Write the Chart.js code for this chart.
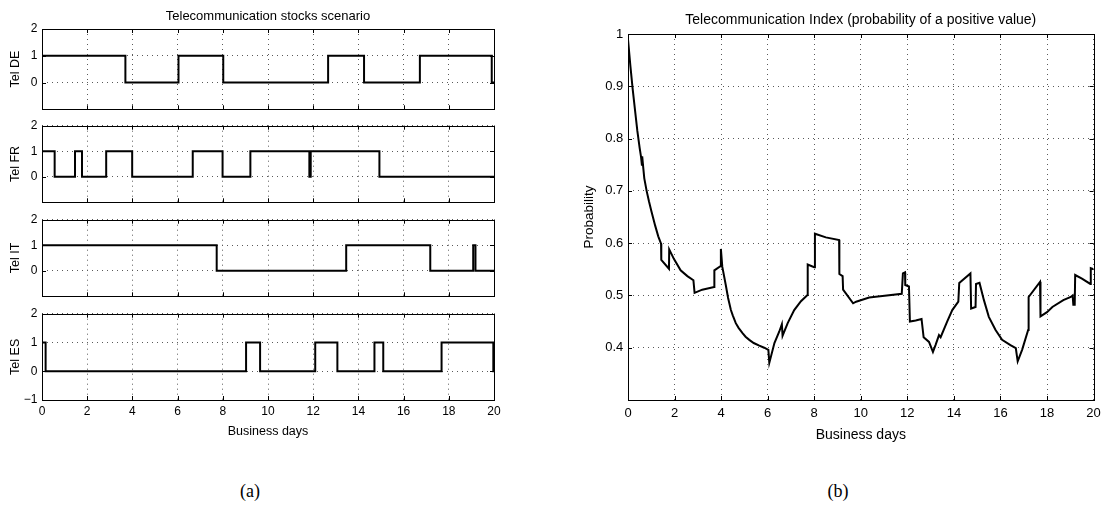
<!DOCTYPE html>
<html><head><meta charset="utf-8">
<script src="https://cdn.jsdelivr.net/npm/chart.js@4"></script>
<style>
html,body{margin:0;padding:0;background:#fff;}
body{width:1106px;height:506px;position:relative;overflow:hidden;}
canvas{position:absolute;}
.cap{position:absolute;font-family:'Liberation Serif','Times New Roman',serif;font-size:18px;color:#000;transform:translate(-50%,-50%);white-space:nowrap;}
</style></head><body>
<canvas id="cDE" width="510" height="121" style="left:0;top:0"></canvas>
<canvas id="cFR" width="510" height="100" style="left:0;top:114px"></canvas>
<canvas id="cIT" width="510" height="100" style="left:0;top:208px"></canvas>
<canvas id="cES" width="510" height="138" style="left:0;top:302px"></canvas>
<canvas id="cP" width="546" height="445" style="left:560px;top:0"></canvas>
<div class="cap" style="left:250px;top:491px">(a)</div>
<div class="cap" style="left:838px;top:491px">(b)</div>
<script>
// ---- data ----
const DAY_MIN = 0, DAY_MAX = 20;
const dayTickStep = 2;
// stock states: value v[i] holds from day t[i] onward
const telDE_t = [0, 3.69, 6.04, 8.02, 12.66, 14.25, 16.72, 19.9];
const telDE_v = [1, 0, 1, 0, 1, 0, 1, 0];
const telFR_t = [0, 0.56, 1.46, 1.77, 2.84, 3.99, 6.67, 7.99, 9.22, 11.83, 11.89, 14.93];
const telFR_v = [1, 0, 1, 0, 1, 0, 1, 0, 1, 0, 1, 0];
const telIT_t = [0, 7.73, 13.46, 17.18, 19.08, 19.18];
const telIT_v = [1, 0, 1, 0, 1, 0];
const telES_t = [0, 0.16, 9.03, 9.65, 12.09, 13.07, 14.71, 15.1, 17.68, 19.97];
const telES_v = [1, 0, 1, 0, 1, 0, 1, 0, 1, 0];

const probDays = [0, 0.1, 0.2, 0.3, 0.4, 0.5, 0.56, 0.6, 0.61, 0.66,
  0.7, 0.8, 0.9, 1.0, 1.17, 1.3, 1.42, 1.43, 1.76, 1.77,
  1.97, 2.26, 2.55, 2.81, 2.86, 3.19, 3.70, 3.71, 3.97, 3.99,
  4.05, 4.2, 4.3, 4.42, 4.5, 4.63, 4.75, 4.92, 5.05, 5.21, 5.4, 5.64, 5.85, 6.03, 6.07, 6.29,
  6.5, 6.61, 6.64, 6.86, 7.14, 7.43, 7.71, 7.72, 8.0, 8.03,
  8.5, 9.07, 9.08, 9.22, 9.24, 9.67, 9.8, 10.36, 10.93, 11.76,
  11.81, 11.9, 11.91, 12.07, 12.11, 12.36, 12.61, 12.7, 12.93, 13.1,
  13.21, 13.36, 13.43, 13.71, 13.93, 14.19, 14.23, 14.71, 14.74, 14.93,
  14.95, 15.1, 15.29, 15.5, 15.79, 16.07, 16.43, 16.66, 16.74, 16.93,
  17.19, 17.21, 17.7, 17.72, 18.0, 18.23, 18.7, 19.02, 19.1, 19.13,
  19.19, 19.21, 19.5, 19.86, 19.88, 20];
const probValues = [0.99, 0.94, 0.895, 0.855, 0.815, 0.782, 0.765, 0.748, 0.766, 0.742,
  0.724, 0.70, 0.68, 0.662, 0.633, 0.613, 0.599, 0.568, 0.551, 0.588,
  0.570, 0.548, 0.537, 0.529, 0.505, 0.511, 0.516, 0.548, 0.556, 0.589,
  0.555, 0.52, 0.495, 0.472, 0.462, 0.447, 0.438, 0.428, 0.421, 0.415, 0.409, 0.404, 0.400, 0.396, 0.371, 0.409,
  0.431, 0.445, 0.423, 0.447, 0.472, 0.489, 0.501, 0.559, 0.554, 0.618,
  0.611, 0.606, 0.541, 0.537, 0.511, 0.485, 0.488, 0.496, 0.499, 0.503,
  0.542, 0.544, 0.520, 0.517, 0.45, 0.452, 0.455, 0.42, 0.411, 0.392,
  0.405, 0.424, 0.420, 0.45, 0.472, 0.488, 0.524, 0.542, 0.475, 0.478,
  0.522, 0.524, 0.491, 0.459, 0.434, 0.415, 0.405, 0.399, 0.374, 0.396,
  0.434, 0.497, 0.526, 0.460, 0.468, 0.478, 0.491, 0.497, 0.50, 0.482,
  0.482, 0.539, 0.532, 0.522, 0.552, 0.55];

const leftTitle = 'Telecommunication stocks scenario';
const rightTitle = 'Telecommunication Index (probability of a positive value)';
const xLabel = 'Business days';
const yLabelRight = 'Probability';

// ---- styling ----
const FONT = "'Liberation Sans', Arial, Helvetica, sans-serif";
const GRID_COLOR = '#5a5a5a';
const DASH = [1, 4];
const LINE_W = 2;

const matlabAxes = {
  id: 'matlabAxes',
  afterDraw(chart) {
    const {ctx, chartArea: a, scales: {x, y}} = chart;
    const L = 4;
    const r = v => Math.round(v) + 0.5;
    ctx.save();
    ctx.strokeStyle = '#000';
    ctx.lineWidth = 1;
    ctx.setLineDash([]);
    ctx.beginPath();
    x.ticks.forEach(t => {
      const p = r(x.getPixelForValue(t.value));
      ctx.moveTo(p, a.bottom); ctx.lineTo(p, a.bottom - L);
      ctx.moveTo(p, a.top); ctx.lineTo(p, a.top + L);
    });
    y.ticks.forEach(t => {
      const p = r(y.getPixelForValue(t.value));
      ctx.moveTo(a.left, p); ctx.lineTo(a.left + L, p);
      ctx.moveTo(a.right, p); ctx.lineTo(a.right - L, p);
    });
    ctx.stroke();
    const x0 = r(a.left), y0 = r(a.top), x1 = r(a.right), y1 = r(a.bottom);
    ctx.strokeRect(x0, y0, x1 - x0, y1 - y0);
    ctx.restore();
  }
};

function gridOpts() {
  return { color: GRID_COLOR, lineWidth: 1, drawTicks: false, borderDash: DASH };
}
function borderOpts() {
  return { display: false, dash: DASH };
}

function stepPoints(t, v) {
  const pts = t.map((x, i) => ({x, y: v[i]}));
  pts.push({x: DAY_MAX, y: v[v.length - 1]});
  return pts;
}

function leftPanel(id, label, t, v, o) {
  new Chart(document.getElementById(id), {
    type: 'line',
    data: { datasets: [{ data: stepPoints(t, v), stepped: 'before', borderColor: '#000',
      borderWidth: LINE_W, pointRadius: 0, fill: false }] },
    options: {
      responsive: false, animation: false, devicePixelRatio: 1,
      layout: { padding: { top: o.padTop, right: 16, bottom: o.padBottom, left: 0 } },
      plugins: {
        legend: { display: false }, tooltip: { enabled: false },
        title: o.title ? { display: true, text: o.title, fullSize: false, color: '#000',
          font: { family: FONT, size: 13, weight: 'normal' }, padding: { top: 8.2, bottom: 5.2 } } : { display: false }
      },
      scales: {
        x: {
          type: 'linear', min: DAY_MIN, max: DAY_MAX,
          ticks: { stepSize: dayTickStep, display: o.showX, color: '#000', padding: 4.8,
            font: { family: FONT, size: 12 }, maxRotation: 0 },
          grid: gridOpts(), border: borderOpts(),
          title: o.showX ? { display: true, text: xLabel, color: '#000', font: { family: FONT, size: 12.5 },
            padding: { top: 0, bottom: 0.5 } } : { display: false },
          afterFit: s => { s.height = o.showX ? 40 : 0; }
        },
        y: {
          type: 'linear', min: -1, max: 2,
          ticks: { stepSize: 1, color: '#000', padding: 4.5, font: { family: FONT, size: 12 },
            callback: val => val === -1 ? (o.showMinus ? '\u22121' : '') : String(val) },
          grid: gridOpts(), border: borderOpts(),
          title: { display: true, text: label, color: '#000', font: { family: FONT, size: 12.5 },
            padding: { top: 8.5, bottom: 0 } },
          afterFit: s => { s.width = 42; }
        }
      }
    },
    plugins: [matlabAxes]
  });
}

leftPanel('cDE', 'Tel DE', telDE_t, telDE_v, { title: leftTitle, padTop: 0, padBottom: 2, showX: false, showMinus: false });
leftPanel('cFR', 'Tel FR', telFR_t, telFR_v, { padTop: 8, padBottom: 2, showX: false, showMinus: false });
leftPanel('cIT', 'Tel IT', telIT_t, telIT_v, { padTop: 8, padBottom: 2, showX: false, showMinus: false });
leftPanel('cES', 'Tel ES', telES_t, telES_v, { padTop: 8, padBottom: 0, showX: true, showMinus: true });

new Chart(document.getElementById('cP'), {
  type: 'line',
  data: { datasets: [{ data: probDays.map((x, i) => ({x, y: probValues[i]})), borderColor: '#000',
    borderWidth: LINE_W, pointRadius: 0, tension: 0, fill: false }] },
  options: {
    responsive: false, animation: false, devicePixelRatio: 1,
    layout: { padding: { top: 0, right: 12, bottom: 0, left: 0 } },
    plugins: {
      legend: { display: false }, tooltip: { enabled: false },
      title: { display: true, text: rightTitle, fullSize: false, color: '#000',
        font: { family: FONT, size: 14, weight: 'normal' }, padding: { top: 11.6, bottom: 5.6 } }
    },
    scales: {
      x: {
        type: 'linear', min: DAY_MIN, max: DAY_MAX,
        ticks: { stepSize: dayTickStep, color: '#000', padding: 5.2, font: { family: FONT, size: 13 }, maxRotation: 0 },
        grid: gridOpts(), border: borderOpts(),
        title: { display: true, text: xLabel, color: '#000', font: { family: FONT, size: 14 },
          padding: { top: 0, bottom: 1.6 } },
        afterFit: s => { s.height = 45; }
      },
      y: {
        type: 'linear', min: 0.3, max: 1,
        ticks: { stepSize: 0.1, color: '#000', padding: 4.7, font: { family: FONT, size: 13 },
          callback: val => val < 0.35 ? '' : String(+val.toFixed(1)) },
        grid: gridOpts(), border: borderOpts(),
        title: { display: true, text: yLabelRight, color: '#000', font: { family: FONT, size: 13.5 },
          padding: { top: 20.9, bottom: 0 } },
        afterFit: s => { s.width = 68; }
      }
    }
  },
  plugins: [matlabAxes]
});
</script>
</body></html>
